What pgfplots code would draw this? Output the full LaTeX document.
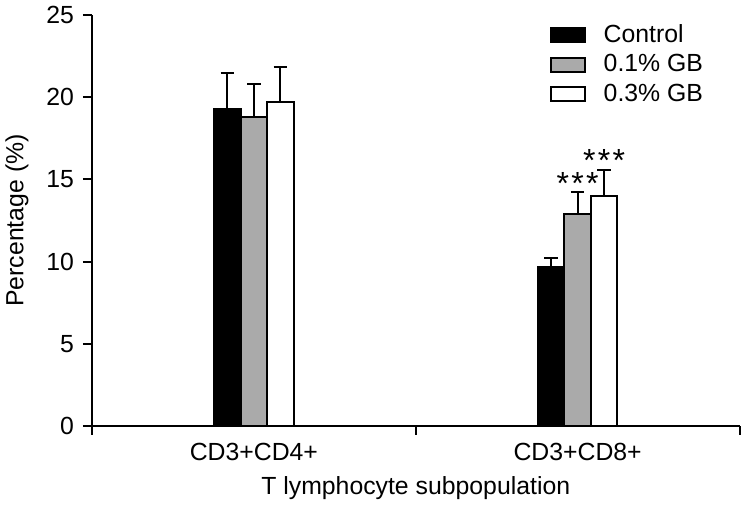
\documentclass[border=0pt]{standalone}
\usepackage{pgfplots}
\pgfplotsset{compat=1.18}
\usepackage{fontspec}
\setmainfont{Liberation Sans}
\definecolor{bargray}{RGB}{170,170,170}
\begin{document}
\begin{tikzpicture}
\begin{axis}[name=ax,
  scale only axis, width=323.75pt, height=205.5pt,
  xmin=0, xmax=2, ymin=0, ymax=25,
  axis x line*=bottom, axis y line*=left,
  axis line style={line width=1pt},
  font=\fontsize{12.4}{14}\selectfont,
  /pgf/number format/assume math mode=true,
  ytick={0,5,...,25},
  xtick={0,1,2}, xticklabels={},
  extra x ticks={0.5,1.5},
  extra x tick labels={CD3+CD4+,CD3+CD8+},
  extra x tick style={major tick length=0pt, xticklabel style={yshift=-5pt}},
  tick align=outside,
  major tick length=4.5pt,
  tick style={line width=1pt, black},
  yticklabel style={xshift=-1pt},
  xlabel={T lymphocyte subpopulation},
  ylabel={Percentage (\%)},
  xlabel style={yshift=3.5pt},
  ylabel style={yshift=2pt},
  ybar=0pt, bar width=13.25pt,
  error bars/y dir=plus, error bars/y explicit,
  error bars/error bar style={line width=1pt, black},
  error bars/error mark options={rotate=90, line width=1pt, black, mark size=3.4pt},
  legend image code/.code={\draw[#1, line width=1pt] (0pt,-3.5pt) rectangle (17pt,3.5pt);},
  legend style={draw=none, fill=none, at={(rel axis cs:0.697,0.995)}, anchor=north west,
    font=\fontsize{12.4}{14}\selectfont, row sep=1.5pt, column sep=7.5pt,
    nodes={inner sep=1.5pt}},
  legend cell align=left,
]
\addplot[fill=black, draw=black, line width=1pt] coordinates {
  (0.5,19.28) +- (0,2.17)
  (1.5,9.69) +- (0,0.53)
};
\addplot[fill=bargray, draw=black, line width=1pt] coordinates {
  (0.5,18.81) +- (0,1.99)
  (1.5,12.90) +- (0,1.35)
};
\addplot[fill=white, draw=black, line width=1pt] coordinates {
  (0.5,19.73) +- (0,2.11)
  (1.5,13.99) +- (0,1.60)
};
\legend{Control, 0.1\% GB, 0.3\% GB}
\node[anchor=base, inner sep=0pt, font=\fontsize{16}{18}\selectfont] at (axis cs:1.5,14.1) {*\kern1.2pt*\kern1.2pt*};
\node[anchor=base, inner sep=0pt, font=\fontsize{16}{18}\selectfont] at (axis cs:1.5819,15.45) {*\kern1.2pt*\kern1.2pt*};
\end{axis}
\pgfresetboundingbox
\path ([xshift=-46pt,yshift=-43.5pt]ax.south west) rectangle ([xshift=2.75pt,yshift=7.5pt]ax.north east);
\end{tikzpicture}
\end{document}
